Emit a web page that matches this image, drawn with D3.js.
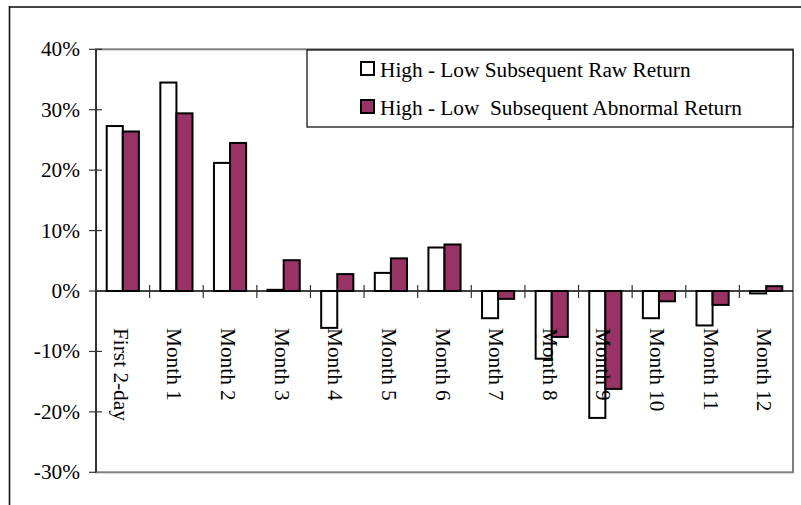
<!DOCTYPE html>
<html>
<head>
<meta charset="utf-8">
<script src="https://cdn.jsdelivr.net/npm/d3@7"></script>
<style>
  body { margin: 0; background: #fff; overflow: hidden; }
  svg { display: block; }
  text { font-family: "Liberation Serif", "Times New Roman", serif; font-size: 21.3px; fill: #000; }
</style>
</head>
<body>
<svg id="chart"></svg>
<script>
// categories and the two series (percent)
var categories = ["First 2-day", "Month 1", "Month 2", "Month 3", "Month 4", "Month 5", "Month 6",
  "Month 7", "Month 8", "Month 9", "Month 10", "Month 11", "Month 12"];
var rawReturn = [27.3, 34.5, 21.2, 0.2, -6.1, 3.0, 7.2, -4.5, -11.2, -21.0, -4.5, -5.7, -0.4];
var abnormalReturn = [26.4, 29.4, 24.5, 5.1, 2.8, 5.4, 7.7, -1.3, -7.6, -16.2, -1.7, -2.3, 0.8];
var yTicks = [-30, -20, -10, 0, 10, 20, 30, 40];
var seriesNames = ["High - Low Subsequent Raw Return", "High - Low  Subsequent Abnormal Return"];

var width = 801, height = 505;
var plot = { left: 96, right: 793, top: 49.3, bottom: 472.3 };

var svg = d3.select("#chart")
  .attr("width", width)
  .attr("height", height);

// outer frame: only top and left edges show inside the picture
svg.append("line")
  .attr("x1", 9).attr("x2", width)
  .attr("y1", 7).attr("y2", 7)
  .attr("stroke", "#444")
  .attr("stroke-width", 2);
svg.append("line")
  .attr("x1", 9.5).attr("x2", 9.5)
  .attr("y1", 6).attr("y2", height)
  .attr("stroke", "#111")
  .attr("stroke-width", 1.6);

var x = d3.scaleBand().domain(categories).range([plot.left, plot.right]);
var groupW = x.bandwidth() * 0.6;
var x1 = d3.scaleBand().domain(["raw", "abn"]).range([0, groupW]);
var y = d3.scaleLinear().domain([-30, 40]).range([plot.bottom, plot.top]);

// plot area border
svg.append("rect")
  .attr("x", plot.left).attr("y", plot.top)
  .attr("width", plot.right - plot.left)
  .attr("height", plot.bottom - plot.top)
  .attr("fill", "none")
  .attr("stroke", "#808080")
  .attr("stroke-width", 2);

// bars
var rows = categories.map(function (c, i) {
  return { cat: c, raw: rawReturn[i], abn: abnormalReturn[i] };
});
var colors = { raw: "#ffffff", abn: "#993366" };

var groups = svg.selectAll(".grp")
  .data(rows)
  .enter().append("g")
  .attr("class", "grp")
  .attr("transform", function (d) {
    return "translate(" + (x(d.cat) + (x.bandwidth() - groupW) / 2) + ",0)";
  });

groups.selectAll("rect")
  .data(function (d) { return [{ k: "raw", v: d.raw }, { k: "abn", v: d.abn }]; })
  .enter().append("rect")
  .attr("x", function (d) { return x1(d.k); })
  .attr("width", x1.bandwidth())
  .attr("y", function (d) { return Math.min(y(d.v), y(0)); })
  .attr("height", function (d) { return Math.abs(y(d.v) - y(0)); })
  .attr("fill", function (d) { return colors[d.k]; })
  .attr("stroke", "#000")
  .attr("stroke-width", 2);

// zero line with crossing category ticks
svg.append("line")
  .attr("x1", plot.left).attr("x2", plot.right)
  .attr("y1", y(0)).attr("y2", y(0))
  .attr("stroke", "#000")
  .attr("stroke-width", 1.3);

svg.selectAll(".ctick")
  .data(categories.slice(1))
  .enter().append("line")
  .attr("class", "ctick")
  .attr("x1", function (d) { return x(d); })
  .attr("x2", function (d) { return x(d); })
  .attr("y1", y(0) - 6).attr("y2", y(0) + 7)
  .attr("stroke", "#333")
  .attr("stroke-width", 1.2);

// category labels, vertical
svg.selectAll(".clabel")
  .data(categories)
  .enter().append("text")
  .attr("class", "clabel")
  .attr("transform", function (d) {
    return "translate(" + (x(d) + x.bandwidth() / 2 - 9) + "," + 328 + ") rotate(90)";
  })
  .text(function (d) { return d; });

// y axis
svg.append("line")
  .attr("x1", plot.left).attr("x2", plot.left)
  .attr("y1", plot.top).attr("y2", plot.bottom)
  .attr("stroke", "#333")
  .attr("stroke-width", 2);

svg.selectAll(".ytick")
  .data(yTicks)
  .enter().append("line")
  .attr("class", "ytick")
  .attr("x1", plot.left - 7)
  .attr("x2", function (d) { return d === -30 ? plot.left : plot.left + 6; })
  .attr("y1", function (d) { return y(d); })
  .attr("y2", function (d) { return y(d); })
  .attr("stroke", "#333")
  .attr("stroke-width", 1.2);

svg.selectAll(".ylabel")
  .data(yTicks)
  .enter().append("text")
  .attr("class", "ylabel")
  .attr("x", 80)
  .attr("y", function (d) { return y(d) + 7; })
  .attr("text-anchor", "end")
  .text(function (d) { return d + "%"; });

// legend
var legend = svg.append("g");
legend.append("rect")
  .attr("x", 307).attr("y", 50)
  .attr("width", plot.right - 307).attr("height", 77)
  .attr("fill", "#fff")
  .attr("stroke", "#000")
  .attr("stroke-width", 1.2);

var legendItems = legend.selectAll(".item")
  .data([{ name: seriesNames[0], fill: colors.raw }, { name: seriesNames[1], fill: colors.abn }])
  .enter().append("g")
  .attr("class", "item")
  .attr("transform", function (d, i) { return "translate(361," + (62 + i * 38) + ")"; });

legendItems.append("rect")
  .attr("width", 13).attr("height", 13)
  .attr("fill", function (d) { return d.fill; })
  .attr("stroke", "#000")
  .attr("stroke-width", 2);

legendItems.append("text")
  .attr("x", 19)
  .attr("y", 14.5)
  .attr("xml:space", "preserve")
  .style("white-space", "pre")
  .text(function (d) { return d.name; });
</script>
</body>
</html>
